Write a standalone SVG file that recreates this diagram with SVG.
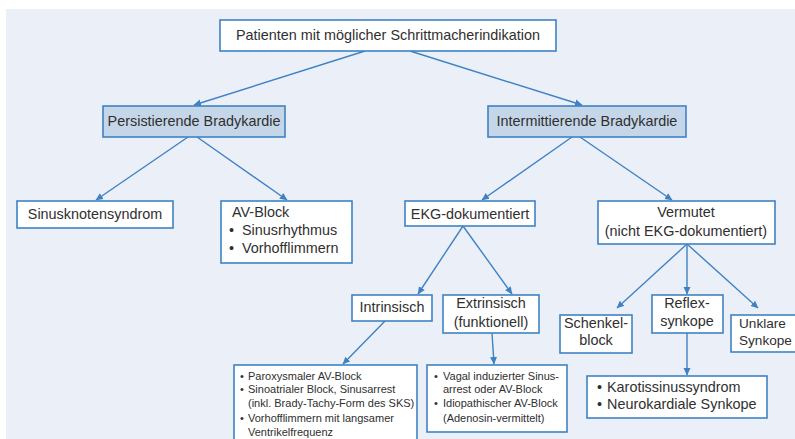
<svg xmlns="http://www.w3.org/2000/svg" width="795" height="439" viewBox="0 0 795 439">
<defs>
<marker id="ah" markerWidth="8" markerHeight="8" refX="7" refY="4" orient="auto" markerUnits="userSpaceOnUse">
<path d="M0,0.5 L7.5,4 L0,7.5 Z" fill="#3f82c4"/>
</marker>
<style>
.box{fill:#ffffff;stroke:#3f82c4;stroke-width:1.6}
.hdr{fill:#c5d6e8;stroke:#3f82c4;stroke-width:1.6}
.t{font-family:"Liberation Sans",Arial,sans-serif;font-size:14.4px;fill:#2f2f2f}
.s{font-family:"Liberation Sans",Arial,sans-serif;font-size:11px;fill:#2f2f2f}
.m{text-anchor:middle}
#connectors line{stroke:#3f82c4;stroke-width:1.4;marker-end:url(#ah)}
</style>
</defs>
<rect width="795" height="439" fill="#ffffff"/>
<rect x="6" y="9" width="789" height="430" fill="#ebf0f8"/>
<g id="connectors">
<line x1="365" y1="51" x2="194" y2="105"/>
<line x1="410" y1="51" x2="582" y2="105"/>
<line x1="188" y1="137" x2="96" y2="200"/>
<line x1="197" y1="137" x2="287" y2="200"/>
<line x1="572" y1="137" x2="482" y2="200"/>
<line x1="580" y1="137" x2="672" y2="200"/>
<line x1="463" y1="226" x2="418" y2="294"/>
<line x1="463" y1="226" x2="512" y2="294"/>
<line x1="385" y1="321" x2="343" y2="364"/>
<line x1="492" y1="333" x2="494" y2="364"/>
<line x1="687" y1="244" x2="617" y2="308"/>
<line x1="687" y1="244" x2="687" y2="294"/>
<line x1="687" y1="244" x2="758" y2="308"/>
<line x1="687" y1="333" x2="687" y2="375"/>
</g>
<g id="root"><rect class="box" x="220" y="20" width="336" height="31"/><text class="t m" x="388" y="40">Patienten mit möglicher Schrittmacherindikation</text></g>
<g id="persist"><rect class="hdr" x="103" y="106" width="182" height="31"/><text class="t m" x="194" y="126">Persistierende Bradykardie</text></g>
<g id="intermit"><rect class="hdr" x="488" y="106" width="198" height="31"/><text class="t m" x="587" y="126">Intermittierende Bradykardie</text></g>
<g id="sinus"><rect class="box" x="17" y="201" width="156" height="27"/><text class="t m" x="95" y="219">Sinusknotensyndrom</text></g>
<g id="avblock"><rect class="box" x="221" y="201" width="131" height="62"/>
<text class="t" x="232" y="217">AV-Block</text>
<text class="t" x="229" y="235">•</text><text class="t" x="242" y="235">Sinusrhythmus</text>
<text class="t" x="229" y="253">•</text><text class="t" x="242" y="253">Vorhofflimmern</text></g>
<g id="ekg"><rect class="box" x="405" y="201" width="130" height="25"/><text class="t m" x="470" y="219">EKG-dokumentiert</text></g>
<g id="vermutet"><rect class="box" x="598" y="201" width="177" height="43"/><text class="t m" x="686" y="217">Vermutet</text><text class="t m" x="686" y="236">(nicht EKG-dokumentiert)</text></g>
<g id="intrinsisch"><rect class="box" x="352" y="295" width="80" height="26"/><text class="t m" x="392" y="312">Intrinsisch</text></g>
<g id="extrinsisch"><rect class="box" x="443" y="295" width="96" height="38"/><text class="t m" x="491" y="308">Extrinsisch</text><text class="t m" x="491" y="327">(funktionell)</text></g>
<g id="intr-list"><rect class="box" x="234" y="365" width="183" height="80"/>
<text class="s" x="240" y="380">•</text><text class="s" x="248" y="380">Paroxysmaler AV-Block</text>
<text class="s" x="240" y="393">•</text><text class="s" x="248" y="393">Sinoatrialer Block, Sinusarrest</text>
<text class="s" x="248" y="407">(inkl. Brady-Tachy-Form des SKS)</text>
<text class="s" x="240" y="422">•</text><text class="s" x="248" y="422">Vorhofflimmern mit langsamer</text>
<text class="s" x="248" y="436">Ventrikelfrequenz</text></g>
<g id="extr-list"><rect class="box" x="427" y="365" width="140" height="67"/>
<text class="s" x="434" y="380">•</text><text class="s" x="443" y="380">Vagal induzierter Sinus-</text>
<text class="s" x="443" y="393">arrest oder AV-Block</text>
<text class="s" x="434" y="407">•</text><text class="s" x="443" y="407">Idiopathischer AV-Block</text>
<text class="s" x="443" y="422">(Adenosin-vermittelt)</text></g>
<g id="schenkel"><rect class="box" x="560" y="315" width="72" height="38"/><text class="t m" x="596" y="328">Schenkel-</text><text class="t m" x="596" y="345">block</text></g>
<g id="reflex"><rect class="box" x="652" y="295" width="71" height="38"/><text class="t m" x="687" y="308">Reflex-</text><text class="t m" x="687" y="326">synkope</text></g>
<g id="unklar"><rect class="box" x="731" y="315" width="70" height="37"/><text class="t" x="739" y="328" style="font-size:13.6px">Unklare</text><text class="t" x="739" y="345" style="font-size:13.6px">Synkope</text></g>
<g id="karotis"><rect class="box" x="587" y="376" width="180" height="42"/>
<text class="t" x="597" y="392">•</text><text class="t" x="607" y="392">Karotissinussyndrom</text>
<text class="t" x="597" y="409">•</text><text class="t" x="607" y="409">Neurokardiale Synkope</text></g>
</svg>
